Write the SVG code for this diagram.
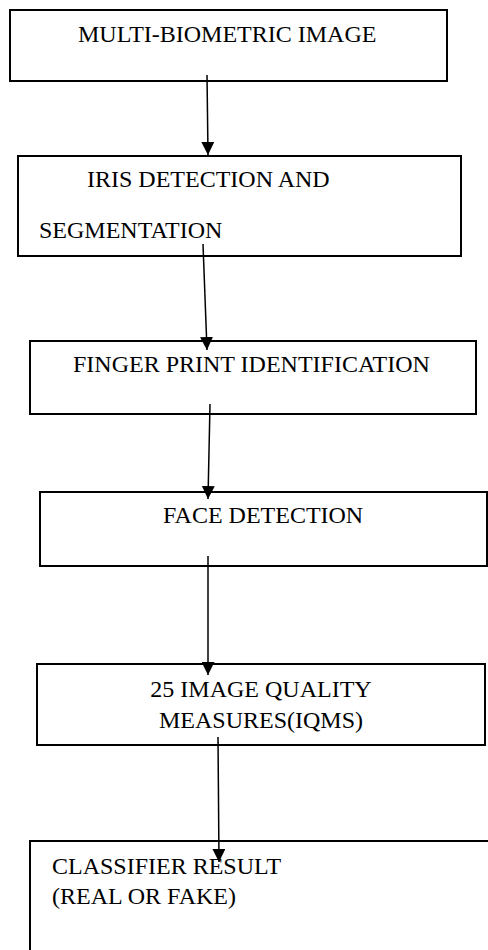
<svg xmlns="http://www.w3.org/2000/svg" width="488" height="950" viewBox="0 0 488 950">
<style>
.box{fill:#fff;stroke:#000;stroke-width:2}
.t{font-family:"Liberation Serif","Times New Roman",serif;font-size:24px;fill:#000}
.c{stroke:#000;stroke-width:1.5;fill:none;marker-end:url(#ah)}
</style>
<defs>
<marker id="ah" markerUnits="userSpaceOnUse" markerWidth="13" markerHeight="13" refX="13" refY="6.5" orient="auto">
<path d="M0,0 L13,6.5 L0,13 z" fill="#000"/>
</marker>
</defs>
<rect width="488" height="950" fill="#fff"/>
<g id="n1"><rect class="box" x="10" y="10" width="437" height="71"/><text class="t" x="78" y="42">MULTI-BIOMETRIC IMAGE</text></g>
<g id="n2"><rect class="box" x="18" y="156" width="443" height="100"/><text class="t" x="87" y="187">IRIS DETECTION AND</text><text class="t" x="39" y="238">SEGMENTATION</text></g>
<g id="n3"><rect class="box" x="30" y="341" width="446" height="73"/><text class="t" x="73" y="372">FINGER PRINT IDENTIFICATION</text></g>
<g id="n4"><rect class="box" x="40" y="492" width="447" height="74"/><text class="t" x="163" y="523">FACE DETECTION</text></g>
<g id="n5"><rect class="box" x="37" y="664" width="448" height="81"/><text class="t" x="261" y="697" text-anchor="middle">25 IMAGE QUALITY</text><text class="t" x="261" y="728" text-anchor="middle">MEASURES(IQMS)</text></g>
<g id="n6"><rect class="box" x="30" y="841" width="480" height="130"/><text class="t" x="52" y="874">CLASSIFIER RESULT</text><text class="t" x="52" y="904">(REAL OR FAKE)</text></g>
<g id="connectors">
<line class="c" x1="207" y1="75" x2="208" y2="155"/>
<line class="c" x1="203" y1="244" x2="207" y2="350"/>
<line class="c" x1="210" y1="404" x2="208" y2="499"/>
<line class="c" x1="208" y1="556" x2="208" y2="675"/>
<line class="c" x1="218" y1="737" x2="219" y2="862"/>
</g>
</svg>
